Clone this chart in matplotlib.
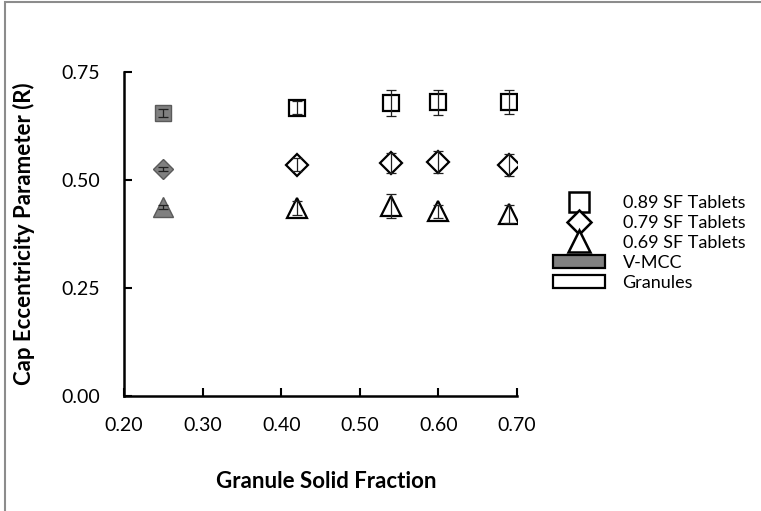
import numpy as np
import matplotlib
matplotlib.use("Agg")
import matplotlib.pyplot as plt
from matplotlib.lines import Line2D
from matplotlib.patches import Patch, Rectangle

plt.rcParams['font.family'] = ['Lato', 'DejaVu Sans']

# V-MCC (grey) points
vmcc_x = [0.25]
vmcc_89 = [0.655]
vmcc_89_err = [0.009]
vmcc_79 = [0.525]
vmcc_79_err = [0.005]
vmcc_69 = [0.437]
vmcc_69_err = [0.004]

# granules (white) points
gran_x = [0.42, 0.54, 0.60, 0.69]
gran_89 = [0.667, 0.678, 0.680, 0.680]
gran_89_err = [0.015, 0.031, 0.029, 0.028]
gran_79 = [0.535, 0.539, 0.542, 0.535]
gran_79_err = [0.015, 0.023, 0.025, 0.026]
gran_69 = [0.435, 0.440, 0.428, 0.421]
gran_69_err = [0.017, 0.028, 0.015, 0.020]

xticks = [0.20, 0.30, 0.40, 0.50, 0.60, 0.70]
yticks = [0.00, 0.25, 0.50, 0.75]

W, H = 761, 511
fig = plt.figure(figsize=(W / 100, H / 100), dpi=100)
ax = fig.add_axes([124 / W, (H - 396) / H, (517 - 124) / W, (396 - 72) / H])

grey = '#808080'
grey_edge = '#5a5a5a'

# grey markers
ax.plot(vmcc_x, vmcc_89, 's', ms=11.5, mfc=grey, mec=grey_edge, mew=1.0, zorder=2)
ax.plot(vmcc_x, vmcc_79, 'D', ms=10, mfc=grey, mec=grey_edge, mew=1.0, zorder=2)
ax.plot(vmcc_x, vmcc_69, '^', ms=14, mfc=grey, mec=grey_edge, mew=1.0, zorder=2)

# white markers
ax.plot(gran_x, gran_89, 's', ms=12, mfc='white', mec='black', mew=1.6, zorder=2)
ax.plot(gran_x, gran_79, 'D', ms=11, mfc='white', mec='black', mew=1.6, zorder=2)
ax.plot(gran_x, gran_69, '^', ms=15, mfc='white', mec='black', mew=1.6, zorder=2)

# error bars on top
for y, e in [(vmcc_89, vmcc_89_err), (vmcc_79, vmcc_79_err), (vmcc_69, vmcc_69_err)]:
    ax.errorbar(vmcc_x, y, yerr=e, fmt='none', ecolor='#202020', elinewidth=0.9,
                capsize=3.5, capthick=0.9, zorder=3)
for y, e in [(gran_89, gran_89_err), (gran_79, gran_79_err), (gran_69, gran_69_err)]:
    ax.errorbar(gran_x, y, yerr=e, fmt='none', ecolor='#202020', elinewidth=0.9,
                capsize=3.5, capthick=0.9, zorder=3)

ax.set_xlim(0.20, 0.70)
ax.set_ylim(0.00, 0.75)
ax.set_xticks(xticks)
ax.set_yticks(yticks)
ax.set_xticklabels(['%.2f' % v for v in xticks])
ax.set_yticklabels(['%.2f' % v for v in yticks])
ax.tick_params(direction='in', length=6, width=1.5, labelsize=14, colors='black')
ax.tick_params(axis='y', pad=17)
ax.tick_params(axis='x', pad=15)
for s in ['top', 'right']:
    ax.spines[s].set_visible(False)
for s in ['left', 'bottom']:
    ax.spines[s].set_linewidth(1.8)

fig.text(326 / W, 1 - 482 / H, 'Granule Solid Fraction', ha='center', va='center',
         fontsize=16, fontweight='bold')
fig.text(24 / W, 1 - 234 / H, 'Cap Eccentricity Parameter (R)', ha='center', va='center',
         rotation=90, fontsize=16, fontweight='bold')

handles = [
    Line2D([], [], ls='none', marker='s', ms=14, mfc='white', mec='black', mew=1.8),
    Line2D([], [], ls='none', marker='D', ms=12, mfc='white', mec='black', mew=1.8),
    Line2D([], [], ls='none', marker='^', ms=16, mfc='white', mec='black', mew=1.8),
    Patch(facecolor=grey, edgecolor='black', linewidth=1.6),
    Patch(facecolor='white', edgecolor='black', linewidth=1.6),
]
labels = ['0.89 SF Tablets', '0.79 SF Tablets', '0.69 SF Tablets', 'V-MCC', 'Granules']
fig.legend(handles, labels, loc='upper left', bbox_to_anchor=(553 / W, 1 - 195 / H),
           frameon=False, fontsize=13, borderpad=0, borderaxespad=0,
           handlelength=2.9, handleheight=0.75, handletextpad=0.95, labelspacing=0.22)

# chart border
fig.patches.append(Rectangle((5 / W, -0.1), 1.2, 1 - 2 / H + 0.1, transform=fig.transFigure,
                             fill=False, edgecolor='#8c8c8c', linewidth=1.5))

fig.savefig('out.png', dpi=100)
